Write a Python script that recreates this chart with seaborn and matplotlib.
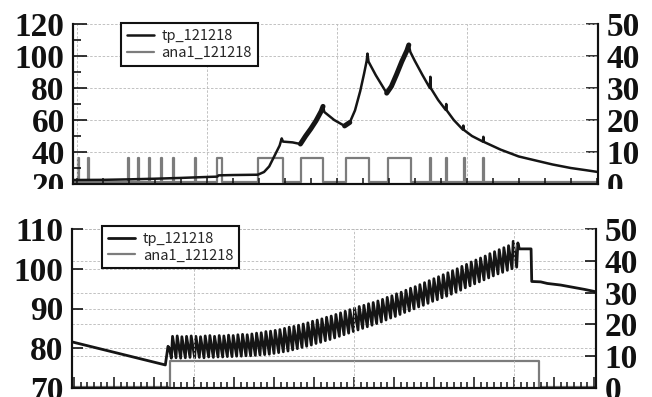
import numpy as np
import pandas as pd
import seaborn as sns
import matplotlib
matplotlib.use('Agg')
import matplotlib.pyplot as plt
from matplotlib.ticker import MultipleLocator
from matplotlib.patches import Rectangle

# ---------------- 上段 ----------------
# tp (左軸) 時間 / 温度
top_tp_t = [-0.15, 1.0, 2.0, 3.0, 4.0, 5.0, 5.4, 5.45, 6.0, 6.96, 7.2, 7.4, 7.6, 7.8, 7.88, 7.93,
            8.3, 8.6, 8.8, 9.0, 9.2, 9.4, 9.47, 9.52, 9.9, 10.3, 10.5, 10.7, 10.9, 11.05, 11.15,
            11.18, 11.22, 11.5, 11.92, 12.1, 12.3, 12.5, 12.7, 12.77, 12.83, 13.0, 13.3, 13.58,
            13.6, 13.62, 13.9, 14.19, 14.21, 14.23, 14.5, 14.85, 14.87, 14.89, 15.2, 15.62, 15.64,
            15.66, 16.3, 17.0, 17.7, 18.3, 19.0, 19.6, 20.05]
top_tp_val = [22.5, 22.6, 22.9, 23.3, 23.8, 24.4, 24.6, 25.4, 25.6, 25.8, 27.5, 31.0, 37.5, 44.0, 48.5, 46.5,
              46.0, 45.0, 50.0, 54.5, 59.5, 65.5, 68.5, 65.0, 60.0, 56.3, 58.5, 66.0, 78.0, 89.0, 97.0,
              101.5, 96.5, 88.0, 76.8, 81.0, 88.5, 96.5, 103.5, 106.9, 102.5, 97.0, 88.0, 80.0,
              87.0, 79.8, 72.5, 66.3, 70.0, 66.0, 60.0, 54.0, 56.5, 53.8, 50.0, 46.5, 49.5,
              46.3, 41.5, 37.2, 34.5, 32.2, 30.0, 28.6, 27.5]
# 振動して太く見える区間
top_thick_ranges = [(8.6, 9.47), (10.2, 10.5), (11.92, 12.8)]

# ana1 (右軸) パルス
top_ana_on = [0.03, 0.42, 1.96, 2.35, 2.77, 3.23, 3.69, 4.54, 5.38, 6.96, 8.62, 10.35, 11.96,
              13.58, 14.19, 14.88, 15.62]
top_ana_off = [0.07, 0.46, 2.0, 2.39, 2.81, 3.27, 3.73, 4.58, 5.58, 7.92, 9.46, 11.23, 12.85,
               13.62, 14.23, 14.92, 15.66]
top_ana_lo = 0.6
top_ana_hi = 8.1

# ---------------- 下段 ----------------
bot_tp_head_t = [28.5, 98.5, 100.5, 101.5]
bot_tp_head_val = [81.6, 75.8, 80.5, 80.0]
tooth_t0 = 103.0
tooth_period = 3.5
tooth_peaks = [83.0, 83.1, 82.9, 83.0, 83.1, 83.0, 82.9, 83.1, 83.2, 83.0,
               83.2, 83.1, 83.3, 83.2, 83.4, 83.5, 83.4, 83.6, 83.8, 83.9,
               84.2, 84.3, 84.5, 84.7, 85.0, 85.3, 85.5, 85.8, 86.1, 86.4,
               86.8, 87.1, 87.4, 87.8, 88.1, 88.5, 88.9, 89.3, 89.7, 90.1,
               90.5, 90.8, 91.2, 91.5, 91.9, 92.3, 92.8, 93.2, 93.7, 94.1,
               94.6, 95.1, 95.5, 96.0, 96.5, 97.0, 97.5, 98.0, 98.5, 99.0,
               99.5, 100.0, 100.6, 101.1, 101.7, 102.2, 102.7, 103.2, 103.8, 104.3,
               104.8, 105.3, 105.8, 106.9, 106.5]
tooth_troughs = [77.5, 77.6, 77.5, 77.6, 77.7, 77.6, 77.7, 77.6, 77.8, 77.7,
                 77.8, 77.8, 77.9, 77.9, 78.0, 78.0, 78.1, 78.1, 78.2, 78.3,
                 78.4, 78.5, 78.7, 78.9, 79.1, 79.3, 79.6, 79.9, 80.2, 80.5,
                 80.8, 81.2, 81.5, 81.9, 82.2, 82.6, 83.0, 83.4, 83.8, 84.2,
                 84.6, 85.0, 85.4, 85.8, 86.2, 86.6, 87.1, 87.6, 88.0, 88.5,
                 89.0, 89.4, 89.9, 90.4, 90.8, 91.3, 91.8, 92.2, 92.7, 93.1,
                 93.6, 94.1, 94.6, 95.2, 95.7, 96.2, 96.7, 97.2, 97.7, 98.2,
                 98.7, 99.1, 99.6, 100.0, 100.4]
bot_tp_tail_t = [364.0, 372.8, 373.3, 380.0, 385.0, 395.0, 405.0, 413.0, 421.5]
bot_tp_tail_val = [105.0, 105.0, 96.8, 96.7, 96.3, 95.9, 95.3, 94.8, 94.2]

bot_ana_on = [102.0]
bot_ana_off = [378.75]
bot_ana_lo = 0.4
bot_ana_hi = 8.4

BLACK = '#151515'
GRAY = '#7c7c7c'
GRID = '#b8b8b8'


def pulse_series(on, off, lo, hi, x0, x1):
    xs, ys = [x0], [lo]
    for a, b in zip(on, off):
        xs += [a, a, b, b]
        ys += [lo, hi, hi, lo]
    xs.append(x1)
    ys.append(lo)
    return pd.DataFrame({'t': xs, 'v': ys})


# 下段 tp をつなぐ
saw_t, saw_v = list(bot_tp_head_t), list(bot_tp_head_val)
for k, (lo_v, hi_v) in enumerate(zip(tooth_troughs, tooth_peaks)):
    tk = tooth_t0 + k * tooth_period
    saw_t += [tk, tk + 0.9]
    saw_v += [lo_v, hi_v]
saw_t += bot_tp_tail_t
saw_v += bot_tp_tail_val
bot_tp = pd.DataFrame({'t': saw_t, 'v': saw_v})
top_tp = pd.DataFrame({'t': top_tp_t, 'v': top_tp_val})

sns.set_style('white')
plt.rcParams['font.family'] = ['Liberation Serif', 'DejaVu Serif']
plt.rcParams['font.weight'] = 'bold'

fig = plt.figure(figsize=(6.52, 3.97), dpi=100)
legend_font = {'family': 'Noto Sans CJK JP', 'weight': 'normal', 'size': 10.5}
grid_kw = dict(color=GRID, linestyle=(0, (3, 2)), linewidth=0.6)


def setup(ax, axr):
    for a in (ax, axr):
        a.spines['top'].set_visible(False)
        for s in ('left', 'right', 'bottom'):
            a.spines[s].set_linewidth(1.5)
            a.spines[s].set_color('#111111')
    ax.set_zorder(axr.get_zorder() + 1)
    ax.patch.set_visible(False)
    ax.tick_params(axis='y', which='both', direction='in', left=True, labelsize=24, pad=6,
                   width=1.2, colors='#111111')
    axr.tick_params(axis='y', which='both', direction='in', right=True, labelright=True,
                    labelsize=24, pad=6, width=1.2, colors='#111111')
    ax.tick_params(axis='x', which='both', direction='in', bottom=True, labelbottom=False,
                   width=1.1, color='#111111')
    axr.tick_params(axis='x', which='both', bottom=False, labelbottom=False)
    ax.set_xlabel('')
    ax.set_ylabel('')
    axr.set_ylabel('')


# ----- 上段 -----
ax1 = fig.add_axes([73 / 652, 1 - 184 / 397, 525 / 652, 160 / 397])
ax1r = ax1.twinx()
sns.lineplot(data=pulse_series(top_ana_on, top_ana_off, top_ana_lo, top_ana_hi, -0.15, 20.05),
             x='t', y='v', ax=ax1r, color=GRAY, lw=1.6, estimator=None, sort=False, label='ana1_121218')
sns.lineplot(data=top_tp, x='t', y='v', ax=ax1, color=BLACK, lw=1.8, estimator=None, sort=False,
             label='tp_121218')
for a, b in top_thick_ranges:
    seg = top_tp[(top_tp.t >= a) & (top_tp.t <= b)]
    ax1.plot(seg.t, seg.v, color=BLACK, lw=3.6, solid_capstyle='round')
setup(ax1, ax1r)
ax1.set_xlim(-0.15, 20.05)
ax1.set_ylim(20, 120)
ax1r.set_ylim(0, 50)
ax1.xaxis.set_major_locator(MultipleLocator(5))
ax1.xaxis.set_minor_locator(MultipleLocator(1))
ax1.tick_params(axis='x', which='both', length=4)
ax1.yaxis.set_major_locator(MultipleLocator(20))
ax1.yaxis.set_minor_locator(MultipleLocator(10))
ax1.tick_params(axis='y', which='major', length=10)
ax1.tick_params(axis='y', which='minor', length=6)
ax1r.yaxis.set_major_locator(MultipleLocator(10))
ax1r.tick_params(axis='y', which='major', length=9)
ax1.grid(True, which='major', **grid_kw)

# ----- 下段 -----
ax2 = fig.add_axes([72 / 652, 1 - 388 / 397, 524 / 652, 159 / 397])
ax2r = ax2.twinx()
sns.lineplot(data=pulse_series(bot_ana_on, bot_ana_off, bot_ana_lo, bot_ana_hi, 28.5, 421.5),
             x='t', y='v', ax=ax2r, color=GRAY, lw=1.6, estimator=None, sort=False, label='ana1_121218')
sns.lineplot(data=bot_tp, x='t', y='v', ax=ax2, color=BLACK, lw=2.0, estimator=None, sort=False,
             label='tp_121218')
setup(ax2, ax2r)
ax2.set_xlim(28.5, 421.5)
ax2.set_ylim(70, 110)
ax2r.set_ylim(0, 50)
ax2.xaxis.set_major_locator(MultipleLocator(30))
ax2.xaxis.set_minor_locator(MultipleLocator(5))
ax2.tick_params(axis='x', which='major', length=8)
ax2.tick_params(axis='x', which='minor', length=4)
ax2.yaxis.set_major_locator(MultipleLocator(10))
ax2.tick_params(axis='y', which='major', length=8)
ax2r.yaxis.set_major_locator(MultipleLocator(10))
ax2r.tick_params(axis='y', which='major', length=8)
ax2.yaxis.grid(True, **grid_kw)
ax2r.yaxis.grid(True, **grid_kw)
for v in range(120, 421, 120):
    ax2.axvline(v, **grid_kw)

# 凡例
for ax, axr, anchor in ((ax1, ax1r, (0.091, 1.006)), (ax2, ax2r, (0.057, 1.02))):
    if axr.get_legend() is not None:
        axr.get_legend().remove()
    h1, l1 = ax.get_legend_handles_labels()
    h2, l2 = axr.get_legend_handles_labels()
    leg = ax.legend(h1 + h2, l1 + l2, loc='upper left', bbox_to_anchor=anchor, borderaxespad=0,
                    prop=legend_font, frameon=True, fancybox=False, framealpha=1,
                    handlelength=1.9, handletextpad=0.5, borderpad=0.4, labelspacing=0.2)
    leg.get_frame().set_edgecolor('#111111')
    leg.get_frame().set_linewidth(1.5)

# 上段下端の切れ目
fig.add_artist(Rectangle((0, 1 - 205 / 397), 1, (205 - 189.5) / 397, transform=fig.transFigure,
                         facecolor='white', edgecolor='none', zorder=10))

plt.savefig('out.png', dpi=100)
